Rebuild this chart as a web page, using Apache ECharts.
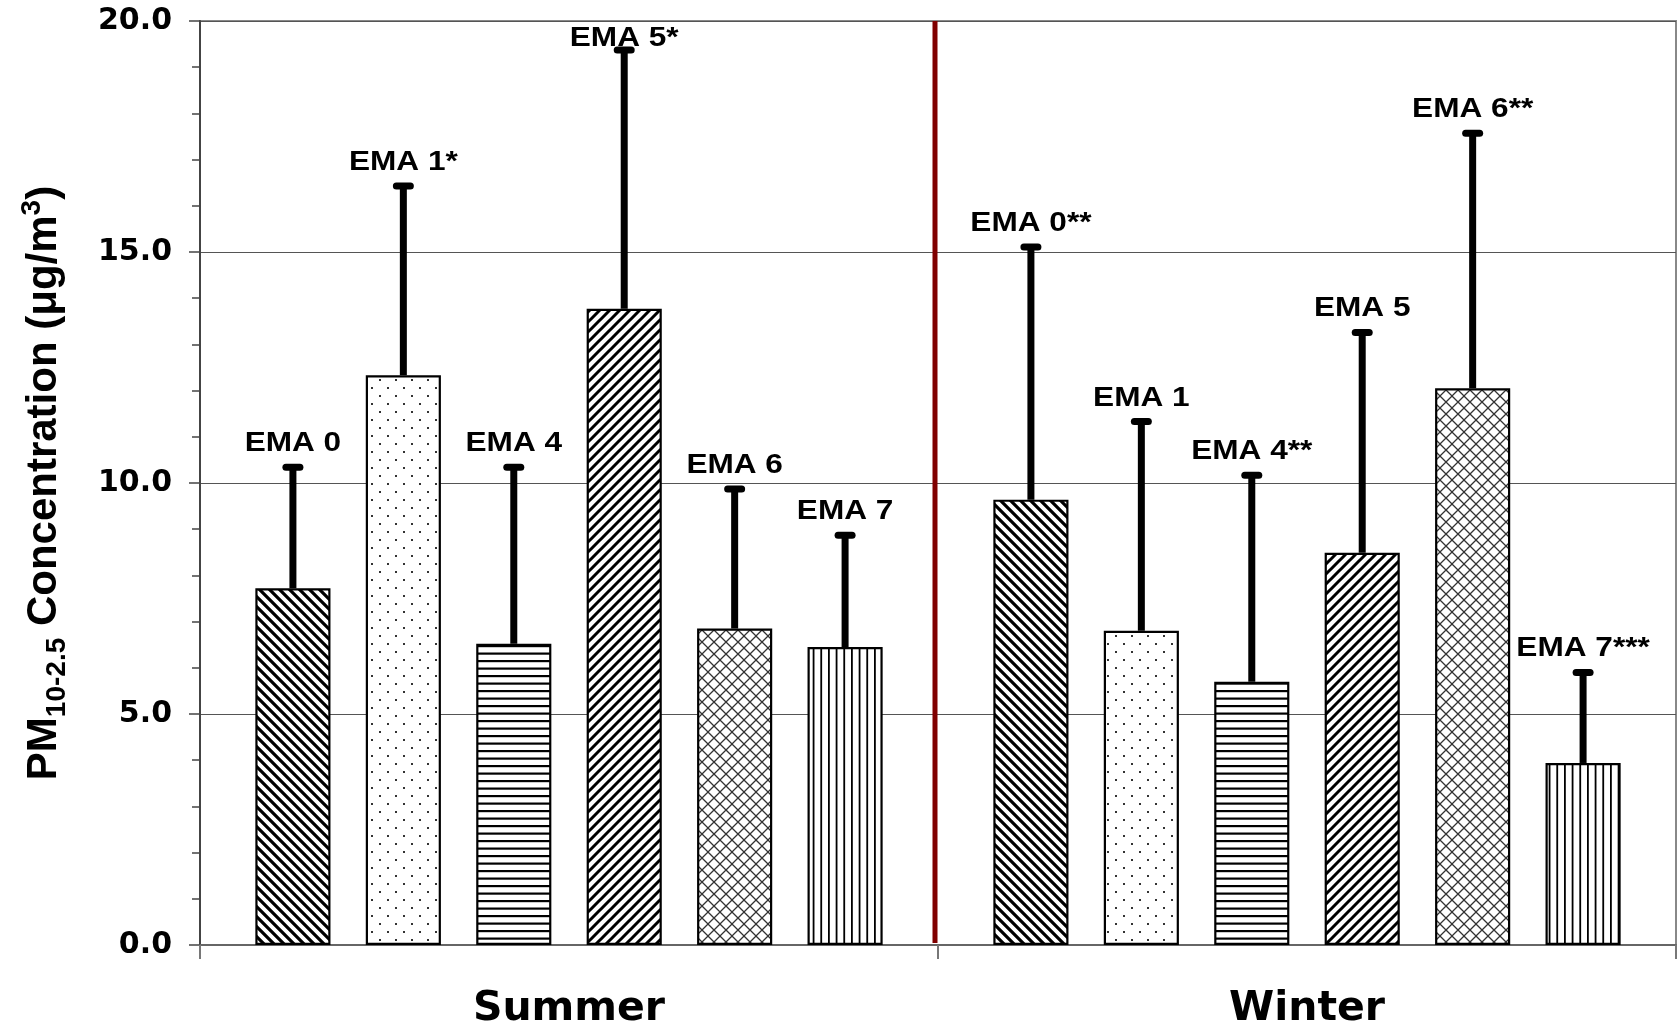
<!DOCTYPE html>
<html>
<head>
<meta charset="utf-8">
<script src="https://cdn.jsdelivr.net/npm/echarts@6/dist/echarts.min.js"></script>
<style>
  html, body { margin: 0; padding: 0; background: #fff; }
  #chart { width: 1678px; height: 1027px; }
</style>
</head>
<body>
<div id="chart"></div>
<script>
// Seasons on the category axis, monitoring stations as grouped bars
const seasons = ['Summer', 'Winter'];
const sites = ['EMA 0', 'EMA 1', 'EMA 4', 'EMA 5', 'EMA 6', 'EMA 7'];

// Mean PM10-2.5 concentration and standard deviation (µg/m3)
const summerMean = [7.72, 12.33, 6.52, 13.77, 6.85, 6.45];
const summerSD   = [2.62, 4.10, 3.82, 5.60, 3.02, 2.42];
const winterMean = [9.64, 6.80, 5.70, 8.49, 12.05, 3.94];
const winterSD   = [5.47, 4.53, 4.47, 4.77, 5.52, 1.96];

// Bar annotations (asterisks mark significance)
const summerLabels = ['EMA 0', 'EMA 1*', 'EMA 4', 'EMA 5*', 'EMA 6', 'EMA 7'];
const winterLabels = ['EMA 0**', 'EMA 1', 'EMA 4**', 'EMA 5', 'EMA 6**', 'EMA 7***'];

// Value axis range
const yMin = 0, yMax = 20, yStep = 5;

const CAT_GAP = 0.15;   // barCategoryGap as a fraction
const BAR_GAP = 0.47;   // barGap as a fraction of bar width
const FONT = '"DejaVu Sans", "Liberation Sans", sans-serif';
const ARIAL = '"Liberation Sans", Arial, sans-serif';

// Monochrome hatch fills built on small canvases
function makeTile(w, h, draw) {
  const c = document.createElement('canvas');
  c.width = w; c.height = h;
  const ctx = c.getContext('2d');
  ctx.fillStyle = '#fff';
  ctx.fillRect(0, 0, w, h);
  draw(ctx, w, h);
  return { image: c, repeat: 'repeat' };
}

const patterns = [
  // EMA 0: backward diagonal
  makeTile(10, 10, (ctx, s) => {
    ctx.strokeStyle = '#000'; ctx.lineWidth = 3.2; ctx.beginPath();
    ctx.moveTo(-2, -2); ctx.lineTo(s + 2, s + 2);
    ctx.moveTo(-3, s - 3); ctx.lineTo(3, s + 3);
    ctx.moveTo(s - 3, -3); ctx.lineTo(s + 3, 3);
    ctx.stroke();
  }),
  // EMA 1: sparse staggered dots
  makeTile(16, 16, (ctx) => {
    ctx.fillStyle = '#333';
    ctx.fillRect(3, 3, 2, 2);
    ctx.fillRect(11, 11, 2, 2);
  }),
  // EMA 4: horizontal lines
  makeTile(8, 15, (ctx, w) => {
    ctx.fillStyle = '#000';
    ctx.fillRect(0, 0, w, 2.2);
    ctx.fillRect(0, 7.5, w, 2.2);
  }),
  // EMA 5: forward diagonal
  makeTile(10, 10, (ctx, s) => {
    ctx.strokeStyle = '#000'; ctx.lineWidth = 3.0; ctx.beginPath();
    ctx.moveTo(-2, s + 2); ctx.lineTo(s + 2, -2);
    ctx.moveTo(-3, 3); ctx.lineTo(3, -3);
    ctx.moveTo(s - 3, s + 3); ctx.lineTo(s + 3, s - 3);
    ctx.stroke();
  }),
  // EMA 6: diagonal crosshatch
  makeTile(12, 12, (ctx, s) => {
    ctx.strokeStyle = '#333'; ctx.lineWidth = 1.3; ctx.beginPath();
    ctx.moveTo(-1, -1); ctx.lineTo(s + 1, s + 1);
    ctx.moveTo(-1, s + 1); ctx.lineTo(s + 1, -1);
    ctx.stroke();
  }),
  // EMA 7: vertical lines
  makeTile(23, 8, (ctx, w, h) => {
    ctx.fillStyle = '#000';
    ctx.fillRect(0, 0, 1.8, h);
    ctx.fillRect(7.67, 0, 1.8, h);
    ctx.fillRect(15.33, 0, 1.8, h);
  })
];

const barSeries = sites.map((s, k) => ({
  type: 'bar',
  name: s,
  data: [summerMean[k], winterMean[k]],
  barCategoryGap: (CAT_GAP * 100) + '%',
  barGap: (BAR_GAP * 100) + '%',
  itemStyle: { color: patterns[k], borderColor: '#000', borderWidth: 2.2 },
  emphasis: { disabled: true },
  z: 2
}));

// Error bars (upper SD whisker) with station labels above
const errData = [];
const errLabels = [];
sites.forEach((s, k) => {
  errData.push([0, summerMean[k], summerSD[k], k]);
  errLabels.push(summerLabels[k]);
  errData.push([1, winterMean[k], winterSD[k], k]);
  errLabels.push(winterLabels[k]);
});

function barCenterX(api, cat, k) {
  const band = api.size([1, 0])[0];
  const n = sites.length;
  const w = band * (1 - CAT_GAP) / (n + (n - 1) * BAR_GAP);
  const groupW = n * w + (n - 1) * BAR_GAP * w;
  return api.coord([cat, 0])[0] - groupW / 2 + k * w * (1 + BAR_GAP) + w / 2;
}

function renderErr(params, api) {
  const cat = api.value(0), mean = api.value(1), sd = api.value(2), k = api.value(3);
  const cx = barCenterX(api, cat, k);
  const yb = api.coord([cat, mean])[1];
  const yt = api.coord([cat, mean + sd])[1];
  const plotTop = api.coord([cat, yMax])[1];
  // keep the label inside the plotting area
  const labelBottom = Math.max(yt - 10, plotTop + 31);
  return {
    type: 'group',
    children: [
      { type: 'line', shape: { x1: cx, y1: yb, x2: cx, y2: yt },
        style: { stroke: '#000', lineWidth: 7, lineCap: 'butt' } },
      { type: 'line', shape: { x1: cx - 7, y1: yt, x2: cx + 7, y2: yt },
        style: { stroke: '#000', lineWidth: 7, lineCap: 'round' } },
      { type: 'text', x: cx, y: labelBottom, scaleX: 1.17,
        style: { text: errLabels[params.dataIndex], x: 0, y: 0,
                 textAlign: 'center', textVerticalAlign: 'bottom',
                 align: 'center', verticalAlign: 'bottom', fill: '#000',
                 font: 'bold 27px ' + ARIAL } }
    ]
  };
}

// Season divider drawn on the boundary between the two categories
function renderDivider(params, api) {
  const band = api.size([1, 0])[0];
  const x = api.coord([0, yMin])[0] + band / 2 - 3;
  return {
    type: 'line',
    shape: { x1: x, y1: api.coord([0, yMax])[1], x2: x, y2: api.coord([0, yMin])[1] - 2 },
    style: { stroke: '#800000', lineWidth: 5 }
  };
}

const chart = echarts.init(document.getElementById('chart'), null, { renderer: 'canvas' });
chart.setOption({
  backgroundColor: '#fff',
  animation: false,
  grid: {
    left: 200, right: 2, top: 21, bottom: 82,
    containLabel: false, outerBoundsMode: 'none',
    show: true, borderColor: '#888', borderWidth: 2, backgroundColor: 'transparent'
  },
  xAxis: {
    type: 'category',
    data: seasons,
    axisLine: { show: true, lineStyle: { color: '#666', width: 2 } },
    axisTick: { show: true, length: 14, lineStyle: { color: '#777', width: 2 } },
    axisLabel: { fontFamily: FONT, fontWeight: 'bold', fontSize: 41, color: '#000', margin: 44 },
    splitLine: { show: false }
  },
  yAxis: {
    type: 'value',
    min: yMin, max: yMax, interval: yStep,
    axisLine: { show: true, lineStyle: { color: '#444', width: 2 } },
    axisTick: { show: true, length: 11, lineStyle: { color: '#444', width: 1.5 } },
    minorTick: { show: true, splitNumber: 5, length: 8, lineStyle: { color: '#444', width: 1.5 } },
    axisLabel: { formatter: v => v.toFixed(1), fontFamily: FONT, fontWeight: 'bold', fontSize: 30, color: '#000', margin: 28 },
    splitLine: { show: true, lineStyle: { color: '#555', width: 1 } },
    name: '{a|PM}{sub|10-2.5}{a| Concentration (μg/m}{sup|3}{a|)}',
    nameLocation: 'middle',
    nameRotate: 90,
    nameGap: 126,
    nameTextStyle: {
      rich: {
        a:   { fontFamily: ARIAL, fontWeight: 'bold', fontSize: 42, color: '#000', lineHeight: 60 },
        sub: { fontFamily: ARIAL, fontWeight: 'bold', fontSize: 28, color: '#000', padding: [26, 0, 0, 0] },
        sup: { fontFamily: ARIAL, fontWeight: 'bold', fontSize: 28, color: '#000', padding: [0, 0, 24, 0] }
      }
    }
  },
  series: [
    ...barSeries,
    { type: 'custom', data: errData, renderItem: renderErr, z: 5, silent: true },
    { type: 'custom', data: [[0, 0]], renderItem: renderDivider, z: 6, silent: true }
  ]
});
</script>
</body>
</html>
